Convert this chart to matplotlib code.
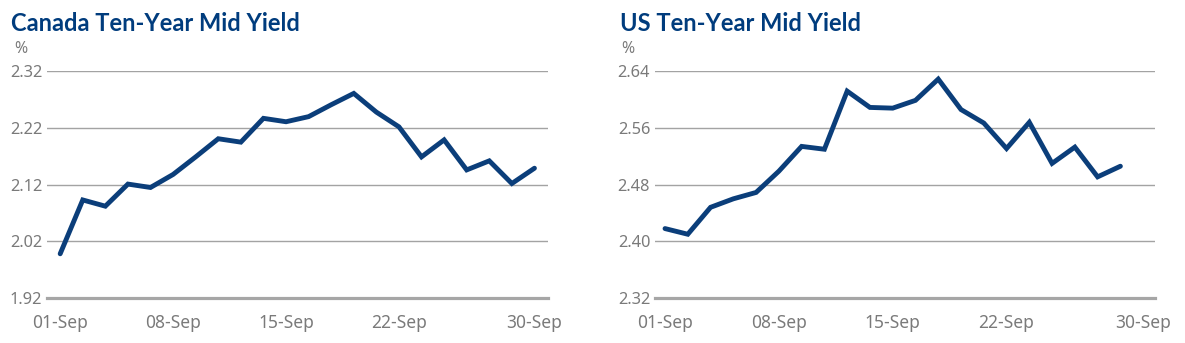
import matplotlib
matplotlib.use("Agg")
import matplotlib.pyplot as plt

dates = ["01-Sep", "02-Sep", "03-Sep", "04-Sep", "05-Sep",
         "08-Sep", "09-Sep", "10-Sep", "11-Sep", "12-Sep",
         "15-Sep", "16-Sep", "17-Sep", "18-Sep", "19-Sep",
         "22-Sep", "23-Sep", "24-Sep", "25-Sep", "26-Sep",
         "29-Sep", "30-Sep"]
tick_labels = ["01-Sep", "08-Sep", "15-Sep", "22-Sep", "30-Sep"]

canada = [1.998, 2.093, 2.082, 2.121, 2.115, 2.138, 2.169, 2.201, 2.195, 2.237,
          2.231, 2.240, 2.261, 2.281, 2.248, 2.222, 2.169, 2.199, 2.146, 2.162,
          2.122, 2.149]
us = [2.418, 2.410, 2.448, 2.460, 2.469, 2.499, 2.534, 2.530, 2.612, 2.589,
      2.588, 2.599, 2.629, 2.586, 2.567, 2.531, 2.568, 2.510, 2.533, 2.491,
      2.506]

canada_ticks = [1.92, 2.02, 2.12, 2.22, 2.32]
us_ticks = [2.32, 2.40, 2.48, 2.56, 2.64]

LINE = "#0b3e7a"
TITLE = "#003c7d"
GRID = "#a3a3a3"
BASE = "#a6a6a6"
TXT = "#7a7a7a"
FONT = "Noto Sans"
TFONT = "Lato"

fig = plt.figure(figsize=(11.85, 3.43), dpi=100)
W, H = 1185, 343

def panel(x0, x1, xlim, values, yticks, title, title_x, pct_x):
    ax = fig.add_axes([x0 / W, 1 - 298 / H, (x1 - x0) / W, (298 - 71.3) / H])
    idx = list(range(len(values)))
    ax.plot(idx, values, color=LINE, lw=3.5, solid_joinstyle="miter",
            solid_capstyle="round", clip_on=False, zorder=3)
    ax.set_xlim(*xlim)
    ax.set_ylim(yticks[0], yticks[-1])
    ax.set_yticks(yticks)
    ax.set_yticklabels([f"{t:.2f}" for t in yticks], fontfamily=FONT,
                       fontsize=11.8, color=TXT)
    pos = [dates.index(t) for t in tick_labels]
    ax.set_xticks(pos)
    ax.set_xticklabels(tick_labels, fontfamily=FONT, fontsize=12.5, color=TXT)
    for t in yticks[1:]:
        ax.axhline(t, color=GRID, lw=1.0, zorder=1)
    for s in ["top", "right", "left"]:
        ax.spines[s].set_visible(False)
    ax.spines["bottom"].set_color(BASE)
    ax.spines["bottom"].set_linewidth(2.3)
    ax.tick_params(axis="both", length=0)
    ax.tick_params(axis="y", pad=3.5)
    ax.tick_params(axis="x", pad=11.5)
    fig.text(title_x / W, 1 - 31 / H, title, fontfamily=TFONT, fontweight="bold",
             fontsize=17, color=TITLE, ha="left", va="baseline")
    fig.text(pct_x / W, 1 - 53 / H, "%", fontfamily=FONT, fontsize=11.5,
             color=TXT, ha="left", va="baseline")
    return ax

panel(47.3, 548, (-0.57, 21.6), canada, canada_ticks,
      "Canada Ten-Year Mid Yield", 11, 14)
panel(655, 1155, (-0.44, 21.52), us, us_ticks,
      "US Ten-Year Mid Yield", 620, 621)

fig.savefig("out.png", dpi=100)
